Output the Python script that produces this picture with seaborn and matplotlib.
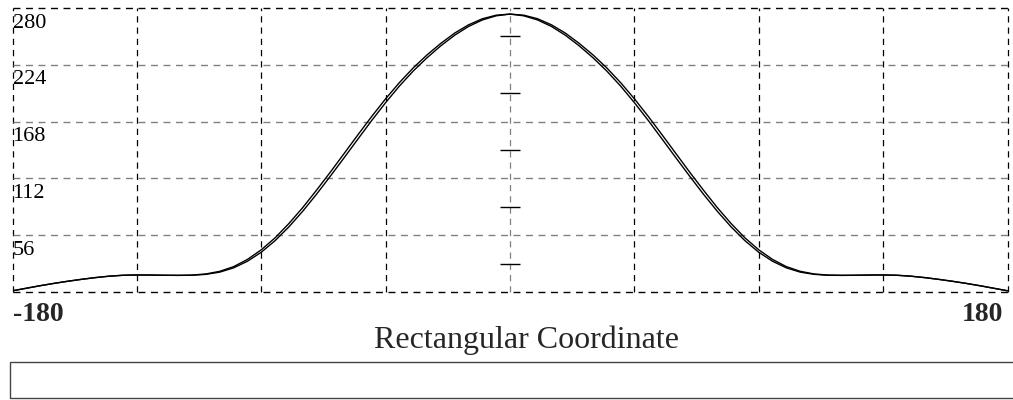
import numpy as np
import pandas as pd
import matplotlib
matplotlib.use("Agg")
import matplotlib.pyplot as plt
import seaborn as sns
from matplotlib.patches import Rectangle

# ---- data ----
angles = [-180, -175, -170, -165, -160, -155, -150, -145, -140, -135, -130, -125, -120, -115,
          -110, -105, -100, -95, -90, -85, -80, -75, -70, -65, -60, -55, -50, -45, -40, -35,
          -30, -25, -20, -15, -10, -5, 0, 5, 10, 15, 20, 25, 30, 35, 40, 45, 50, 55, 60, 65,
          70, 75, 80, 85, 90, 95, 100, 105, 110, 115, 120, 125, 130, 135, 140, 145, 150, 155,
          160, 165, 170, 175, 180]

inner_values = [1.2, 3.7, 6.2, 8.5, 10.6, 12.5, 14.2, 15.6, 16.5, 16.8, 16.7, 16.5, 16.4, 16.5,
                17.4, 19.6, 23.8, 30.3, 39.2, 50.6, 64.2, 79.6, 96.4, 114.2, 132.4, 150.9, 169.2,
                186.7, 203.1, 217.9, 231.0, 242.8, 253.2, 261.8, 268.2, 272.3, 274.0,
                272.3, 268.2, 261.8, 253.2, 242.8, 231.0, 217.9, 203.1, 186.7, 169.2, 150.9,
                132.4, 114.2, 96.4, 79.6, 64.2, 50.6, 39.2, 30.3, 23.8, 19.6, 17.4, 16.5,
                16.4, 16.5, 16.7, 16.8, 16.5, 15.6, 14.2, 12.5, 10.6, 8.5, 6.2, 3.7, 1.2]

outer_values = [1.2, 3.7, 6.2, 8.5, 10.6, 12.5, 14.2, 15.6, 16.5, 16.8, 16.7, 16.5, 16.4, 16.7,
                17.8, 20.4, 25.0, 32.1, 41.6, 53.4, 67.5, 83.2, 100.4, 118.2, 136.6, 155.1, 173.2,
                190.5, 206.5, 221.0, 233.8, 245.2, 255.3, 263.4, 269.4, 272.9, 274.0,
                272.9, 269.4, 263.4, 255.3, 245.2, 233.8, 221.0, 206.5, 190.5, 173.2, 155.1,
                136.6, 118.2, 100.4, 83.2, 67.5, 53.4, 41.6, 32.1, 25.0, 20.4, 17.8, 16.7,
                16.4, 16.5, 16.7, 16.8, 16.5, 15.6, 14.2, 12.5, 10.6, 8.5, 6.2, 3.7, 1.2]

x_grid = [-180, -135, -90, -45, 0, 45, 90, 135, 180]
y_grid = [0, 56, 112, 168, 224, 280]
y_labels = ["280", "224", "168", "112", "56"]
x_end_labels = ["-180", "180"]
center_ticks = [28, 84, 140, 196, 252]
x_title = "Rectangular Coordinate"

df = pd.DataFrame({
    "angle": angles * 2,
    "value": inner_values + outer_values,
    "series": ["inner"] * len(angles) + ["outer"] * len(angles),
})

sns.set_style("white")
plt.rcParams["font.family"] = ["Liberation Serif", "DejaVu Serif"]

fig = plt.figure(figsize=(10.13, 4.0), dpi=100)
ax = fig.add_axes([12.5 / 1013, 108 / 400, 995 / 1013, 284 / 400])

sns.lineplot(data=df, x="angle", y="value", hue="series",
             palette={"inner": "black", "outer": "black"},
             linewidth=1.0, legend=False, ax=ax, sort=False, estimator=None)

ax.set_xlim(-180, 180)
ax.set_ylim(0, 280)
for s in ax.spines.values():
    s.set_visible(False)
ax.set_xticks([])
ax.set_yticks([])
ax.set_xlabel("")
ax.set_ylabel("")

# dashed grid
for xv in x_grid:
    col = "#808080" if xv == 0 else "black"
    ax.axvline(xv, color=col, linestyle=(0, (5, 4)), linewidth=0.9, clip_on=False, zorder=0)
for yv in y_grid:
    col = "black" if yv in (y_grid[0], y_grid[-1]) else "#808080"
    ax.axhline(yv, color=col, linestyle=(0, (5, 4)), linewidth=1.0, clip_on=False, zorder=0)

# center axis with small ticks (no solid spine)
sec = ax.secondary_yaxis(0.5)
for sp in sec.spines.values():
    sp.set_visible(False)
sec.set_yticks(center_ticks)
sec.tick_params(axis="y", direction="inout", length=15, width=1.0, color="black",
                labelleft=False, labelright=False, left=True, right=False)

# y labels inside the left edge, just below their grid line
for lab in y_labels:
    ax.annotate(lab, xy=(-180, float(lab)), xytext=(0, -4), textcoords="offset points",
                ha="left", va="top", fontsize=16, color="black", annotation_clip=False)

# x end labels
ax.annotate(x_end_labels[0], xy=(0, 0), xycoords="axes fraction", xytext=(0, -7),
            textcoords="offset points", ha="left", va="top", fontsize=20,
            fontweight="bold", annotation_clip=False)
ax.annotate(x_end_labels[1], xy=(1, 0), xycoords="axes fraction", xytext=(-3, -7),
            textcoords="offset points", ha="right", va="top", fontsize=20,
            fontweight="bold", annotation_clip=False)

fig.text(527 / 1013, 1 - 340 / 400, x_title, ha="center", va="center", fontsize=23)

# empty box at the bottom
fig.add_artist(Rectangle((10 / 1013, 2 / 400), 1.0, 36 / 400, transform=fig.transFigure,
                         fill=False, edgecolor="#444444", linewidth=1.0))

fig.savefig("out.png", dpi=100, facecolor="white")
